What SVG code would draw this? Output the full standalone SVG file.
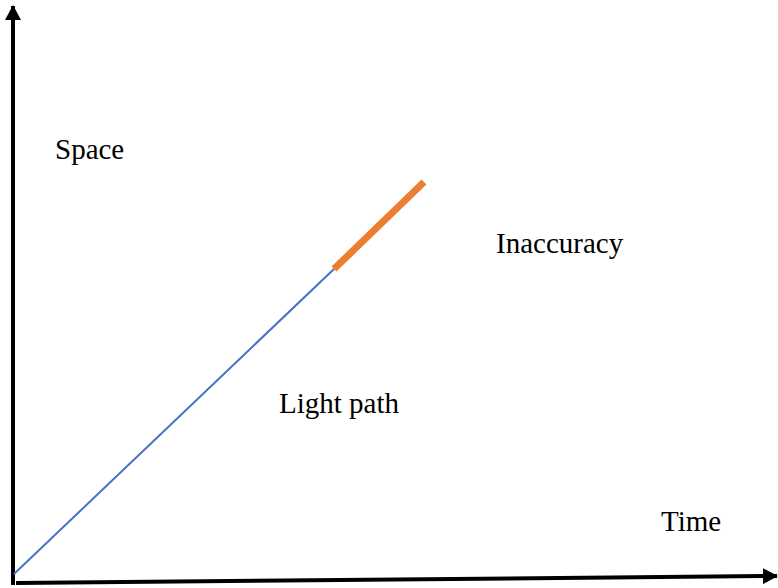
<svg xmlns="http://www.w3.org/2000/svg" width="778" height="588" viewBox="0 0 778 588">
<style>
.lbl{font-family:"Liberation Serif","Times New Roman",serif;font-size:29px;fill:#000}
.axis{stroke:#000;stroke-width:4;fill:none}
</style>
<defs>
<marker id="ah" markerUnits="userSpaceOnUse" markerWidth="16" markerHeight="16" refX="14" refY="8" orient="auto">
<path d="M0,0 L15,8 L0,16 Z" fill="#000"/>
</marker>
</defs>
<rect width="778" height="588" fill="#fff"/>
<g id="connectors">
<line class="axis" x1="13" y1="585" x2="13" y2="6" marker-end="url(#ah)"/>
<line class="axis" x1="16" y1="583" x2="777" y2="576" marker-end="url(#ah)"/>
<line id="light" x1="14" y1="574" x2="334" y2="269" stroke="#4472C4" stroke-width="2"/>
<line id="inacc" x1="334" y1="269" x2="424" y2="182" stroke="#ED7D31" stroke-width="7"/>
</g>
<g id="space"><text class="lbl" x="55" y="159">Space</text></g>
<g id="inaccuracy"><text class="lbl" x="496" y="253">Inaccuracy</text></g>
<g id="lightpath"><text class="lbl" x="279" y="413">Light path</text></g>
<g id="time"><text class="lbl" x="661" y="531">Time</text></g>
</svg>
